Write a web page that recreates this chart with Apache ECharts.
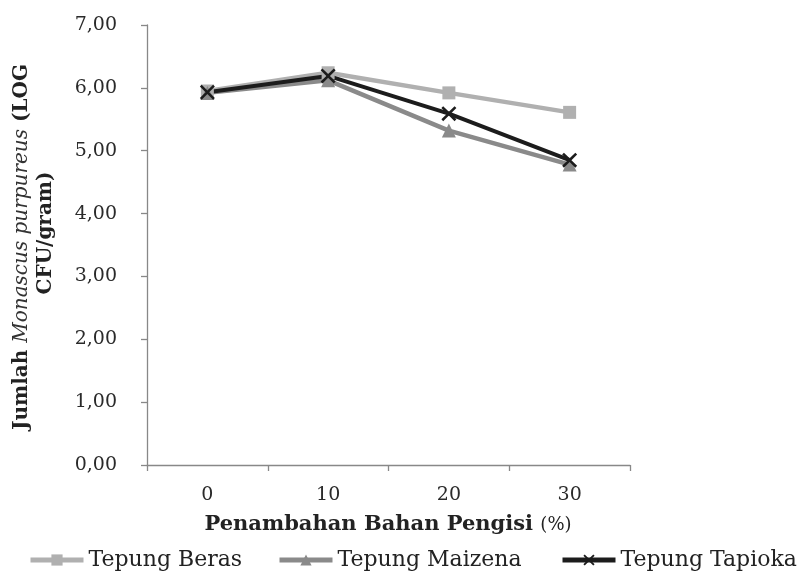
<!DOCTYPE html>
<html><head><meta charset="utf-8">
<script src="https://cdn.jsdelivr.net/npm/echarts@6/dist/echarts.min.js"></script>
<style>html,body{margin:0;padding:0;background:#fff}#c{width:801px;height:573px}</style>
</head><body><div id="c"></div>
<script>
const categories = ['0', '10', '20', '30'];
const yTicks = [0, 1, 2, 3, 4, 5, 6, 7];
const tepungBeras = [5.95, 6.24, 5.92, 5.61];
const tepungMaizena = [5.92, 6.12, 5.32, 4.78];
const tepungTapioka = [5.93, 6.19, 5.59, 4.85];
const seriesNames = ['Tepung Beras', 'Tepung Maizena', 'Tepung Tapioka'];

const xPath = 'path://M0,1.2L1.2,0L5,3.8L8.8,0L10,1.2L6.2,5L10,8.8L8.8,10L5,6.2L1.2,10L0,8.8L3.8,5Z';
const serif = 'DejaVu Serif';
const legendLefts = [28, 277, 560];
const chart = echarts.init(document.getElementById('c'), null, {renderer: 'canvas'});
chart.setOption({
  animation: false,
  backgroundColor: '#fff',
  grid: {left: 147, top: 25, width: 483, height: 440, containLabel: false},
  xAxis: {
    type: 'category', data: categories, boundaryGap: true,
    axisLine: {lineStyle: {color: '#888', width: 1.3}},
    axisTick: {show: true, length: 6, lineStyle: {color: '#888', width: 1.3}},
    axisLabel: {color: '#2a2a2a', fontFamily: serif, fontSize: 19, margin: 21}
  },
  yAxis: {
    type: 'value', min: 0, max: 7, interval: 1,
    splitLine: {show: false},
    axisLine: {show: true, lineStyle: {color: '#888', width: 1.3}},
    axisTick: {show: true, length: 6, lineStyle: {color: '#888', width: 1.3}},
    axisLabel: {color: '#2a2a2a', fontFamily: serif, fontSize: 19, margin: 30,
      formatter: v => yTicks.includes(v) ? v.toFixed(2).replace('.', ',') : ''}
  },
  legend: seriesNames.map((n, i) => ({
    left: legendLefts[i], top: 549, padding: 0, itemWidth: 53, itemHeight: 14,
    lineStyle: {width: 5},
    textStyle: {fontFamily: serif, fontSize: 22, color: '#222'},
    data: [n]
  })),
  graphic: [
    {type: 'text', x: 22, y: 247, rotation: Math.PI / 2,
      style: {text: '{b|Jumlah }{i|Monascus purpureus}{b| (LOG}', align: 'center', verticalAlign: 'middle',
        rich: {b: {fontFamily: serif, fontWeight: 'bold', fontSize: 20, fill: '#222'},
               i: {fontFamily: serif, fontStyle: 'italic', fontSize: 20, fill: '#333'}}}},
    {type: 'text', x: 46, y: 233, rotation: Math.PI / 2,
      style: {text: 'CFU/gram)', align: 'center', verticalAlign: 'middle',
        fontFamily: serif, fontWeight: 'bold', fontSize: 20, fill: '#222'}},
    {type: 'text', x: 388, y: 525,
      style: {text: '{b|Penambahan Bahan Pengisi }{n|(%)}', align: 'center', verticalAlign: 'middle',
        rich: {b: {fontFamily: serif, fontWeight: 'bold', fontSize: 21, fill: '#222'},
               n: {fontFamily: serif, fontSize: 18, fill: '#222'}}}}
  ],
  series: [
    {name: seriesNames[0], type: 'line', data: tepungBeras, symbol: 'rect', symbolSize: 13,
      lineStyle: {color: '#b0b0b0', width: 4.5}, itemStyle: {color: '#b0b0b0'}},
    {name: seriesNames[1], type: 'line', data: tepungMaizena, symbol: 'triangle', symbolSize: 14,
      lineStyle: {color: '#8a8a8a', width: 4.5}, itemStyle: {color: '#8a8a8a'}},
    {name: seriesNames[2], type: 'line', data: tepungTapioka, symbol: xPath, symbolSize: 15,
      lineStyle: {color: '#1c1c1c', width: 4}, itemStyle: {color: '#1c1c1c'}}
  ]
});
</script></body></html>
